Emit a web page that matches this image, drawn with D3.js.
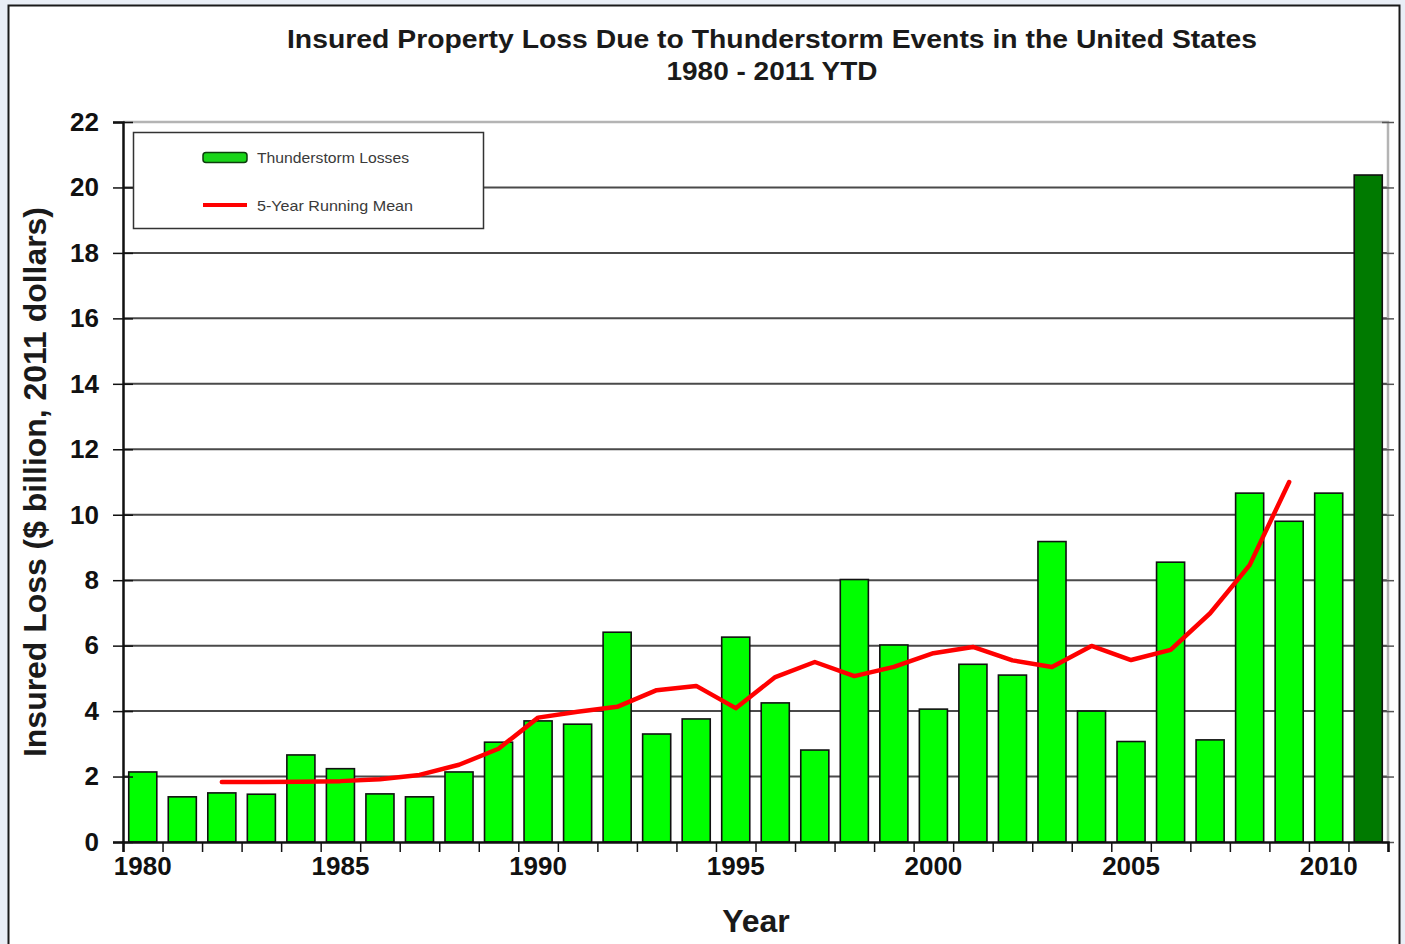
<!DOCTYPE html>
<html>
<head>
<meta charset="utf-8">
<script src="https://cdnjs.cloudflare.com/ajax/libs/d3/7.8.5/d3.min.js"></script>
<style>
    body { margin: 0; background: #e9eef6; }
    svg { display: block; font-family: "Liberation Sans", Arial, sans-serif; }
</style>
</head>
<body>
<svg id="chart" width="1405" height="944"></svg>
<script>
// data ($ billion, 2011 dollars)
var years = [1980, 1981, 1982, 1983, 1984, 1985, 1986, 1987, 1988, 1989,
             1990, 1991, 1992, 1993, 1994, 1995, 1996, 1997, 1998, 1999,
             2000, 2001, 2002, 2003, 2004, 2005, 2006, 2007, 2008, 2009,
             2010, 2011];
var losses = [2.14, 1.38, 1.50, 1.46, 2.66, 2.24, 1.47, 1.38, 2.14, 3.05,
              3.70, 3.60, 6.41, 3.30, 3.76, 6.26, 4.25, 2.81, 8.02, 6.02,
              4.06, 5.43, 5.10, 9.18, 4.00, 3.07, 8.55, 3.12, 10.66, 9.80,
              10.66, 20.38];
var meanYears = [1982, 1983, 1984, 1985, 1986, 1987, 1988, 1989, 1990, 1991,
                 1992, 1993, 1994, 1995, 1996, 1997, 1998, 1999, 2000, 2001,
                 2002, 2003, 2004, 2005, 2006, 2007, 2008, 2009];
var runningMean = [1.83, 1.83, 1.84, 1.86, 1.92, 2.05, 2.36, 2.85, 3.80, 3.98,
                   4.13, 4.64, 4.77, 4.09, 5.04, 5.50, 5.07, 5.35, 5.77, 5.96,
                   5.55, 5.35, 5.99, 5.56, 5.87, 6.99, 8.46, 11.0];
var ytdYear = 2011;
var yTicks = [0, 2, 4, 6, 8, 10, 12, 14, 16, 18, 20, 22];
var xLabelYears = [1980, 1985, 1990, 1995, 2000, 2005, 2010];
var legendLabels = ["Thunderstorm Losses", "5-Year Running Mean"];

var barColor = "#00ff00";
var ytdColor = "#007a00";
var meanColor = "#ff0000";

// plot area (window.top is reserved, so prefixed names)
var plotLeft = 123, plotRight = 1388, plotTop = 122, plotBottom = 842;

var svg = d3.select("#chart");

// white panel with black frame
svg.append("rect")
    .attr("x", 8.5).attr("y", 5.5)
    .attr("width", 1391).attr("height", 960)
    .attr("fill", "#fff")
    .attr("stroke", "#1a1a1a")
    .attr("stroke-width", 2);

var x = d3.scaleBand()
    .domain(years)
    .range([plotLeft, plotRight])
    .paddingInner(0.29)
    .paddingOuter(0.145);

// linear year scale for the band boundary ticks
var xEdge = d3.scaleLinear()
    .domain([years[0] - 0.5, years[years.length - 1] + 0.5])
    .range([plotLeft, plotRight]);

var y = d3.scaleLinear()
    .domain([0, 22])
    .range([plotBottom, plotTop]);

// gridlines
svg.append("g")
    .selectAll("line")
    .data(yTicks.slice(1, -1))
    .enter()
    .append("line")
    .attr("x1", plotLeft).attr("x2", plotRight)
    .attr("y1", function(d) { return y(d); })
    .attr("y2", function(d) { return y(d); })
    .attr("stroke", "#4a4a4a")
    .attr("stroke-width", 2);

// top and right border (gray)
svg.append("path")
    .attr("d", "M" + plotLeft + "," + plotTop + "H" + plotRight + "V" + plotBottom)
    .attr("fill", "none")
    .attr("stroke", "#b4b4b4")
    .attr("stroke-width", 2.5);

// right side tick marks
var rightAxis = svg.append("g")
    .attr("transform", "translate(" + plotRight + ",0)")
    .call(d3.axisRight(y).tickValues(yTicks).tickSize(6).tickFormat(""));
rightAxis.select(".domain").remove();
rightAxis.selectAll(".tick line").attr("x1", -6).attr("stroke", "#555").attr("stroke-width", 1.5);

// bars
svg.append("g")
    .selectAll("rect")
    .data(losses)
    .enter()
    .append("rect")
    .attr("x", function(d, i) { return x(years[i]); })
    .attr("y", function(d) { return y(d); })
    .attr("width", x.bandwidth())
    .attr("height", function(d) { return y(0) - y(d); })
    .attr("fill", function(d, i) { return years[i] === ytdYear ? ytdColor : barColor; })
    .attr("stroke", "#111")
    .attr("stroke-width", 1.6);

// 5-year running mean
var meanLine = d3.line()
    .x(function(d, i) { return x(meanYears[i]) + x.bandwidth() / 2; })
    .y(function(d) { return y(d); });

svg.append("path")
    .datum(runningMean)
    .attr("d", meanLine)
    .attr("fill", "none")
    .attr("stroke", meanColor)
    .attr("stroke-width", 4.5)
    .attr("stroke-linecap", "round")
    .attr("stroke-linejoin", "round");

// Y axis
var yAxis = svg.append("g")
    .attr("transform", "translate(" + plotLeft + ",0)")
    .call(d3.axisLeft(y).tickValues(yTicks).tickSize(10).tickPadding(14));
yAxis.select(".domain").attr("stroke", "#111").attr("stroke-width", 2.5);
yAxis.selectAll(".tick line").attr("x2", -10).attr("x1", 10).attr("stroke", "#111").attr("stroke-width", 1.5);
yAxis.selectAll(".tick text")
    .attr("font-size", 26)
    .attr("font-weight", "bold")
    .attr("fill", "#111");

// X axis: ticks at the band edges
var xAxis = svg.append("g")
    .attr("transform", "translate(0," + plotBottom + ")")
    .call(d3.axisBottom(xEdge)
        .tickValues(years.concat([years[years.length - 1] + 1]).map(function(d) { return d - 0.5; }))
        .tickSize(10)
        .tickFormat(""));
xAxis.select(".domain").attr("stroke", "#111").attr("stroke-width", 2.5);
xAxis.selectAll(".tick line").attr("stroke", "#111").attr("stroke-width", 1.5);

// X labels every five years under the bar centres
var xLabels = svg.append("g")
    .attr("transform", "translate(0," + plotBottom + ")")
    .call(d3.axisBottom(x).tickValues(xLabelYears).tickSize(0).tickPadding(15));
xLabels.select(".domain").remove();
xLabels.selectAll(".tick text")
    .attr("font-size", 26)
    .attr("font-weight", "bold")
    .attr("fill", "#111");

// titles
svg.append("text")
    .attr("x", 772).attr("y", 48)
    .attr("text-anchor", "middle")
    .attr("font-size", 26)
    .attr("font-weight", "bold")
    .attr("fill", "#1a1a1a")
    .attr("textLength", 970)
    .attr("lengthAdjust", "spacingAndGlyphs")
    .text("Insured Property Loss Due to Thunderstorm Events in the United States");
svg.append("text")
    .attr("x", 772).attr("y", 80)
    .attr("text-anchor", "middle")
    .attr("font-size", 26)
    .attr("font-weight", "bold")
    .attr("fill", "#1a1a1a")
    .attr("textLength", 211)
    .attr("lengthAdjust", "spacingAndGlyphs")
    .text("1980 - 2011 YTD");

// axis titles
svg.append("text")
    .attr("x", 756).attr("y", 932)
    .attr("text-anchor", "middle")
    .attr("font-size", 32)
    .attr("font-weight", "bold")
    .attr("fill", "#1a1a1a")
    .text("Year");
svg.append("text")
    .attr("transform", "translate(46,482) rotate(-90)")
    .attr("text-anchor", "middle")
    .attr("font-size", 31)
    .attr("font-weight", "bold")
    .attr("fill", "#1a1a1a")
    .attr("textLength", 550)
    .attr("lengthAdjust", "spacingAndGlyphs")
    .text("Insured Loss ($ billion, 2011 dollars)");

// legend
var legend = svg.append("g");
legend.append("rect")
    .attr("x", 133.5).attr("y", 132.5)
    .attr("width", 350).attr("height", 96)
    .attr("fill", "#fff")
    .attr("stroke", "#333")
    .attr("stroke-width", 1.5);
legend.append("rect")
    .attr("x", 203).attr("y", 152.5)
    .attr("width", 44).attr("height", 10)
    .attr("rx", 3)
    .attr("fill", "#19d419")
    .attr("stroke", "#0c3d0c")
    .attr("stroke-width", 1.5);
legend.append("line")
    .attr("x1", 203).attr("x2", 247)
    .attr("y1", 205).attr("y2", 205)
    .attr("stroke", meanColor)
    .attr("stroke-width", 4);
legend.selectAll("text")
    .data(legendLabels)
    .enter()
    .append("text")
    .attr("x", 257)
    .attr("y", function(d, i) { return 163 + i * 48; })
    .attr("font-size", 15)
    .attr("fill", "#3a3a3a")
    .attr("textLength", function(d, i) { return i === 0 ? 152 : 156; })
    .attr("lengthAdjust", "spacingAndGlyphs")
    .text(function(d) { return d; });
</script>
</body>
</html>
